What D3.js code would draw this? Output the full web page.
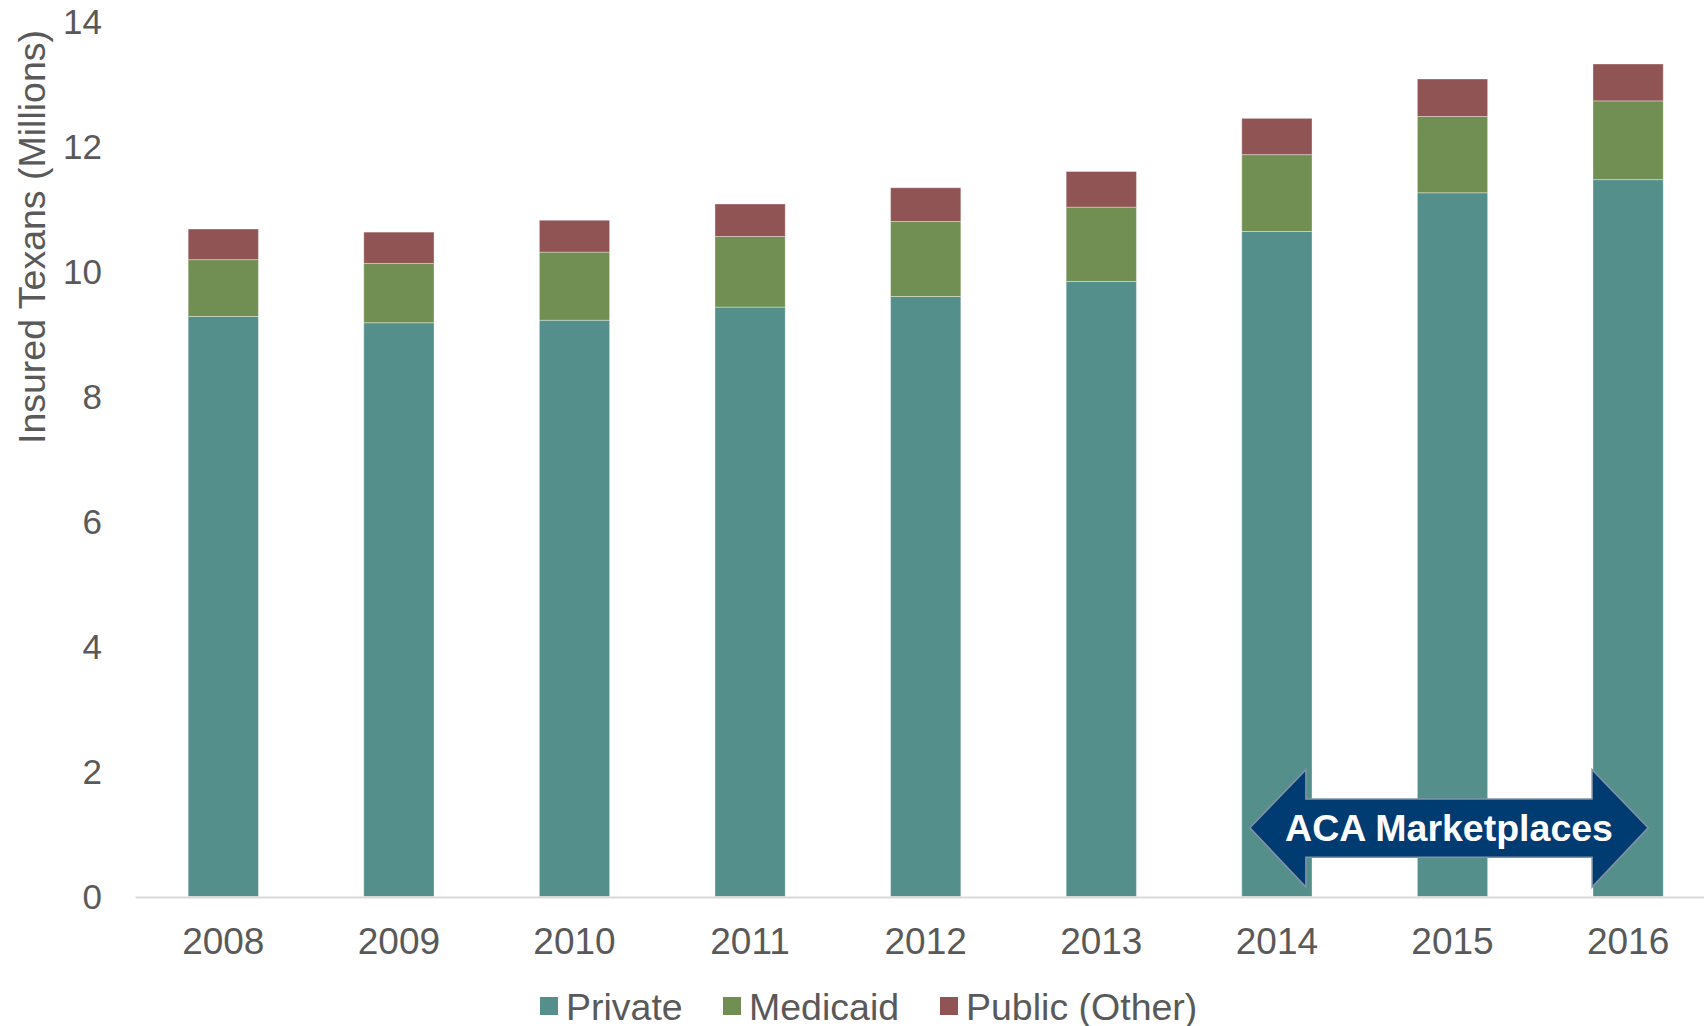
<!DOCTYPE html>
<html>
<head>
<meta charset="utf-8">
<script src="https://cdn.jsdelivr.net/npm/d3@7"></script>
<style>
  body { margin: 0; background: #fff; }
  text { font-family: "Liberation Sans", Arial, sans-serif; }
</style>
</head>
<body>
<div id="grafica"></div>
<script>
// data (millions)
var years = ["2008", "2009", "2010", "2011", "2012", "2013", "2014", "2015", "2016"];
var privateVals = [9.28, 9.18, 9.22, 9.43, 9.60, 9.84, 10.64, 11.26, 11.47];
var medicaidVals = [0.91, 0.95, 1.09, 1.13, 1.20, 1.19, 1.23, 1.22, 1.26];
var publicVals = [0.49, 0.50, 0.51, 0.52, 0.54, 0.57, 0.58, 0.60, 0.59];
var seriesNames = ["Private", "Medicaid", "Public (Other)"];
var yTicks = [0, 2, 4, 6, 8, 10, 12, 14];

var width = 1704, height = 1026;

var svg = d3.select("#grafica")
  .append("svg")
  .attr("width", width)
  .attr("height", height);

// table for the stack
var table = years.map(function (y, i) {
  return { year: y, "Private": privateVals[i], "Medicaid": medicaidVals[i], "Public (Other)": publicVals[i] };
});

var color = d3.scaleOrdinal()
  .domain(seriesNames)
  .range(["#548F8B", "#718F52", "#8F5453"]);

// scales
var x = d3.scaleBand()
  .domain(years)
  .range([135.5, 135.5 + 175.6 * 9])
  .paddingInner(0.6)
  .paddingOuter(0.3);

var y = d3.scaleLinear()
  .domain([0, 14])
  .range([896.5, 21.5]);

// y tick labels (no axis line)
svg.append("g")
  .selectAll("text")
  .data(yTicks)
  .enter()
  .append("text")
  .attr("x", 102)
  .attr("y", function (d) { return y(d); })
  .attr("dy", "0.36em")
  .attr("text-anchor", "end")
  .style("font-size", "35px")
  .style("fill", "#595959")
  .text(function (d) { return d; });

// y axis title
svg.append("text")
  .attr("transform", "translate(45," + 237 + ") rotate(-90)")
  .attr("text-anchor", "middle")
  .style("font-size", "37.5px")
  .style("fill", "#595959")
  .text("Insured Texans (Millions)");

// stacked bars
var stacked = d3.stack().keys(seriesNames)(table);

svg.append("g")
  .selectAll("g")
  .data(stacked)
  .enter()
  .append("g")
  .style("fill", function (d) { return color(d.key); })
  .selectAll("rect")
  .data(function (d) { return d; })
  .enter()
  .append("rect")
  .attr("x", function (d) { return x(d.data.year); })
  .attr("y", function (d) { return y(d[1]); })
  .attr("height", function (d) { return y(d[0]) - y(d[1]); })
  .attr("width", x.bandwidth())
  .style("stroke", "#ffffff")
  .style("stroke-opacity", 0.35)
  .style("stroke-width", 1);

// x axis line
svg.append("line")
  .attr("x1", 135.5)
  .attr("x2", width)
  .attr("y1", y(0) + 1)
  .attr("y2", y(0) + 1)
  .style("stroke", "#D9D9D9")
  .style("stroke-width", 2);

// x tick labels
svg.append("g")
  .selectAll("text")
  .data(years)
  .enter()
  .append("text")
  .attr("x", function (d) { return x(d) + x.bandwidth() / 2; })
  .attr("y", 954)
  .attr("text-anchor", "middle")
  .style("font-size", "37px")
  .style("fill", "#595959")
  .text(function (d) { return d; });

// ACA Marketplaces double arrow
var xl = x("2014") + x.bandwidth() / 2 - 27;
var xr = x("2016") + x.bandwidth() / 2 + 20;
var headW = 56;
var yMid = y(1.1), yHeadTop = y(2.03), yHeadBot = y(0.15), yShaftTop = y(1.56), yShaftBot = y(0.63);
var pts = [
  [xl, yMid],
  [xl + headW, yHeadTop],
  [xl + headW, yShaftTop],
  [xr - headW, yShaftTop],
  [xr - headW, yHeadTop],
  [xr, yMid],
  [xr - headW, yHeadBot],
  [xr - headW, yShaftBot],
  [xl + headW, yShaftBot],
  [xl + headW, yHeadBot]
];
svg.append("path")
  .attr("d", d3.line()(pts) + "Z")
  .style("fill", "#003B71")
  .style("stroke", "#8393A6")
  .style("stroke-width", 1.5);

svg.append("text")
  .attr("x", (xl + xr) / 2)
  .attr("y", yMid)
  .attr("dy", "0.36em")
  .attr("text-anchor", "middle")
  .style("font-size", "37.5px")
  .style("font-weight", "bold")
  .style("fill", "#ffffff")
  .text("ACA Marketplaces");

// legend
var legendX = [540, 723, 940];
var legend = svg.append("g")
  .selectAll("g")
  .data(seriesNames)
  .enter()
  .append("g")
  .attr("transform", function (d, i) { return "translate(" + legendX[i] + ",1006)"; });

legend.append("rect")
  .attr("x", 0)
  .attr("y", -9)
  .attr("width", 18)
  .attr("height", 18)
  .style("fill", function (d) { return color(d); });

legend.append("text")
  .attr("x", 26)
  .attr("y", 0)
  .attr("dy", "0.36em")
  .style("font-size", "37.5px")
  .style("fill", "#595959")
  .text(function (d) { return d; });
</script>
</body>
</html>
